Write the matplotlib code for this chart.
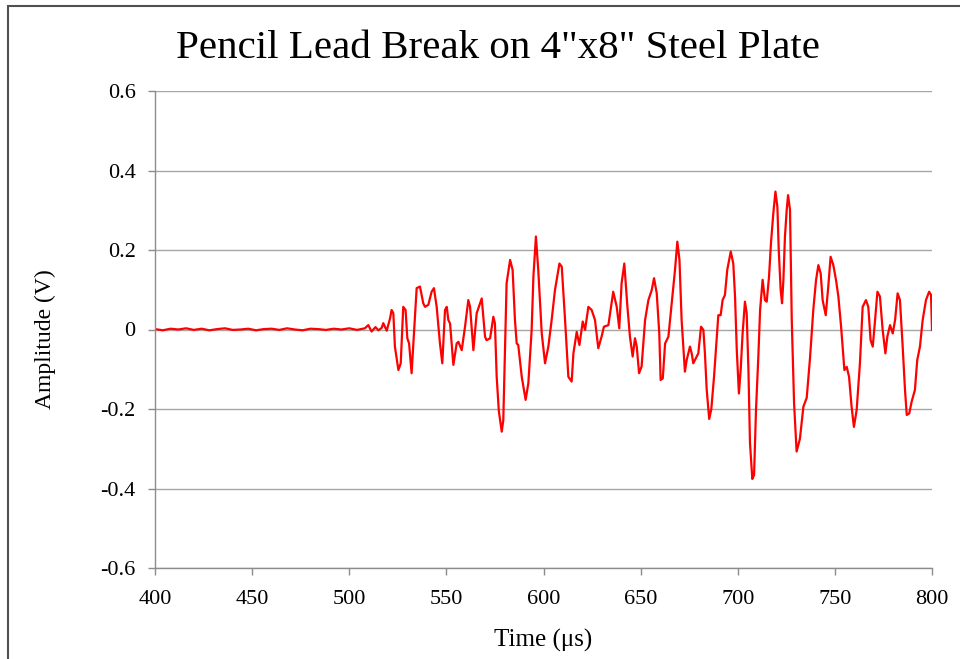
import numpy as np
import matplotlib
matplotlib.use("Agg")
import matplotlib.pyplot as plt
from matplotlib.patches import Rectangle

noise_time = [400, 404, 408, 412, 416, 420, 424, 428, 432, 436, 440, 444, 448,
              452, 456, 460, 464, 468, 472, 476, 480, 484, 488, 492, 496, 500,
              504, 508, 509.8, 511.5, 513.5, 515.0, 516.7]
noise_amp = [0.001, -0.002, 0.002, 0.000, 0.003, -0.001, 0.002, -0.002, 0.001,
             0.003, -0.001, 0.000, 0.002, -0.002, 0.001, 0.002, -0.001, 0.003,
             0.000, -0.002, 0.002, 0.001, -0.001, 0.002, 0.000, 0.003, -0.001,
             0.003, 0.011, -0.005, 0.006, -0.002, 0.004]

# burst after the lead break (time in us, amplitude in V)
burst_time = [
    517.5, 519.3, 521.0, 521.8, 522.7, 523.5, 525.3, 526.5, 527.8, 529.0,
    529.9, 530.8, 532.1, 533.8, 534.7, 536.4, 538.1, 539.0, 540.7, 542.4,
    543.6, 545.0, 546.7, 547.9, 549.3, 550.2, 551.0, 551.9, 553.6, 555.3,
    556.2, 557.9, 559.6, 561.3, 562.2, 563.9, 565.6, 568.2, 569.9, 570.7,
    572.5, 574.2, 575.0, 575.9, 577.0, 578.5, 579.3, 580.2, 581.0, 582.8,
    584.1, 585.3, 586.2, 587.0, 588.8, 590.8, 592.2, 593.9, 594.8, 596.1,
    597.3, 599.1, 600.8, 602.5, 604.2, 605.9, 608.2, 609.4, 611.1, 612.8,
    614.5, 615.4, 617.1, 618.5, 620.2, 621.4, 623.1, 624.8, 626.5, 628.2,
    629.9, 631.1, 633.4, 635.9, 637.7, 639.0, 640.2, 641.6, 643.2, 644.5,
    645.9, 647.1, 648.0, 649.2, 650.5, 652.3, 654.0, 655.7, 656.9, 658.3,
    659.6, 660.3, 661.4, 662.6, 664.3, 666.0, 667.7, 668.9, 670.0, 671.1,
    672.8, 673.7, 675.4, 676.3, 677.1, 679.7, 681.1, 682.3, 683.1, 684.0,
    685.3, 686.4, 687.8, 689.2, 690.0, 691.2, 692.2, 693.4, 694.6, 696.4,
    697.7, 698.6, 699.5, 700.6, 701.5, 702.5, 703.7, 704.6, 705.5, 706.3,
    707.5, 708.4, 709.4, 710.6, 711.5, 712.8, 714.0, 714.9, 716.1, 717.1,
    718.3, 719.4, 720.4, 721.1, 722.1, 722.8, 723.5, 724.3, 725.2, 725.9,
    726.9, 727.8, 729.0, 730.3, 732.0, 733.8, 735.5, 737.2, 738.9, 740.3,
    741.5, 742.7, 743.7, 745.3, 746.6, 747.8, 749.2, 750.6, 751.8, 753.2,
    754.9, 756.1, 757.3, 758.6, 759.8, 761.2, 762.9, 764.3, 766.0, 767.2,
    768.4, 769.5, 770.7, 771.9, 773.2, 774.6, 776.0, 777.0, 778.4, 779.8,
    781.0, 782.3, 783.5, 784.9, 786.1, 787.0, 788.3, 789.5, 791.2, 792.4,
    793.8, 795.2, 796.9, 798.5, 799.5, 800.0]
burst_amp = [
    0.016, -0.003, 0.028, 0.049, 0.041, -0.043, -0.102, -0.085, 0.057, 0.049,
    -0.022, -0.035, -0.110, 0.028, 0.104, 0.108, 0.066, 0.057, 0.062, 0.095,
    0.104, 0.057, -0.035, -0.085, 0.049, 0.057, 0.024, 0.015, -0.089, -0.035,
    -0.031, -0.052, 0.007, 0.074, 0.057, -0.052, 0.041, 0.078, -0.018, -0.027,
    -0.022, 0.032, 0.015, -0.119, -0.205, -0.257, -0.228, -0.043, 0.116, 0.175,
    0.150, 0.024, -0.035, -0.039, -0.119, -0.177, -0.135, -0.001, 0.133, 0.234,
    0.150, -0.010, -0.085, -0.043, 0.024, 0.099, 0.166, 0.158, 0.024, -0.119,
    -0.131, -0.060, -0.006, -0.039, 0.020, -0.001, 0.057, 0.049, 0.024, -0.047,
    -0.018, 0.007, 0.011, 0.095, 0.057, 0.003, 0.116, 0.166, 0.057, -0.018,
    -0.068, -0.022, -0.043, -0.110, -0.093, 0.024, 0.074, 0.099, 0.129, 0.091,
    -0.010, -0.127, -0.123, -0.035, -0.018, 0.066, 0.150, 0.221, 0.175, 0.024,
    -0.106, -0.077, -0.043, -0.060, -0.085, -0.060, 0.007, -0.001, -0.060, -0.150,
    -0.225, -0.200, -0.118, -0.018, 0.036, 0.036, 0.074, 0.087, 0.150, 0.196,
    0.166, 0.083, -0.052, -0.161, -0.102, -0.010, 0.070, 0.041, -0.102, -0.286,
    -0.376, -0.366, -0.202, -0.068, 0.049, 0.125, 0.074, 0.070, 0.133, 0.217,
    0.292, 0.347, 0.309, 0.200, 0.099, 0.066, 0.125, 0.234, 0.301, 0.338,
    0.301, 0.024, -0.186, -0.307, -0.275, -0.194, -0.172, -0.072, 0.050, 0.124,
    0.162, 0.141, 0.074, 0.036, 0.108, 0.183, 0.162, 0.124, 0.083, 0.007,
    -0.102, -0.094, -0.119, -0.194, -0.245, -0.203, -0.085, 0.057, 0.074, 0.057,
    -0.027, -0.043, 0.024, 0.095, 0.083, -0.001, -0.060, -0.018, 0.011, -0.010,
    0.024, 0.091, 0.074, -0.043, -0.152, -0.215, -0.211, -0.182, -0.152, -0.077,
    -0.043, 0.024, 0.074, 0.095, 0.087, -0.001]

time_us = np.array(noise_time + burst_time)
amp_v = np.array(noise_amp + burst_amp)

x_ticks = [400, 450, 500, 550, 600, 650, 700, 750, 800]
y_ticks = [-0.6, -0.4, -0.2, 0, 0.2, 0.4, 0.6]
y_labels = ["-0.6", "-0.4", "-0.2", "0", "0.2", "0.4", "0.6"]

plt.rcParams['font.family'] = ['Liberation Serif', 'DejaVu Serif']

fig = plt.figure(figsize=(9.6, 6.59), dpi=100)
ax = fig.add_axes([155 / 960, 1 - 568 / 659, 777 / 960, 477 / 659])

ax.plot(time_us, amp_v, color='#ff0000', lw=1.6, solid_joinstyle='round')

ax.set_xlim(400, 800)
ax.set_ylim(-0.6, 0.6)
ax.set_xticks(x_ticks)
ax.set_yticks(y_ticks)
ax.set_yticklabels(y_labels)
ax.grid(axis='y', color='#a6a6a6', lw=1.0)
ax.set_axisbelow(True)
for s in ['top', 'right']:
    ax.spines[s].set_visible(False)
for s in ['left', 'bottom']:
    ax.spines[s].set_color('#8c8c8c')
    ax.spines[s].set_linewidth(1.0)
ax.tick_params(axis='both', direction='out', length=5, width=1.0,
               color='#8c8c8c', labelsize=16)
ax.tick_params(axis='x', pad=11)
ax.tick_params(axis='y', pad=9)

ax.set_xlabel('Time (μs)', fontsize=18, labelpad=14)
ax.set_ylabel('Amplitude (V)', fontsize=17)
ax.yaxis.set_label_coords((56 - 155) / 777, (568 - 339) / 477)
fig.text(498 / 960, 1 - 48 / 659, 'Pencil Lead Break on 4"x8" Steel Plate',
         ha='center', va='center', fontsize=29.5)

# chart border (runs off the right and bottom edges)
fig.patches.append(Rectangle((8 / 960, -0.05), 1.1, 1.05 - 6 / 659,
                             transform=fig.transFigure, fill=False,
                             edgecolor='#505050', lw=1.5))

fig.savefig('out.png', dpi=100)
